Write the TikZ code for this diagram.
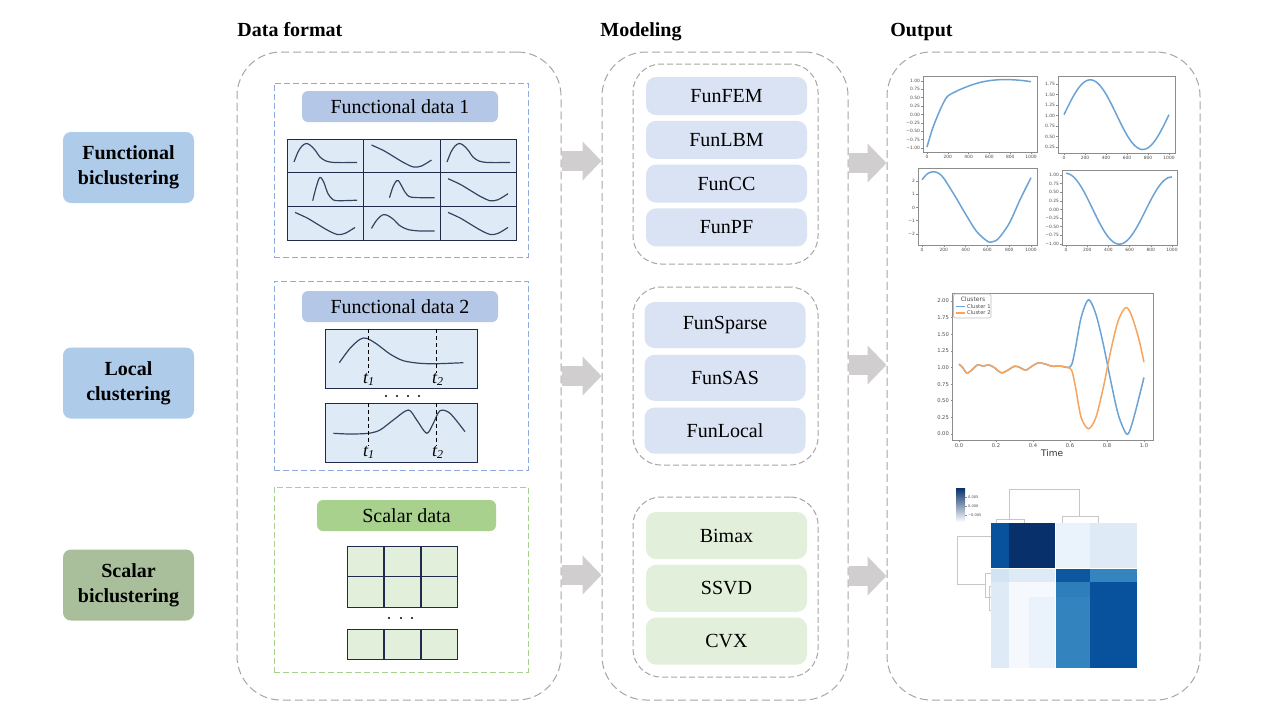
\documentclass[tikz,border=0pt]{standalone}
\usepackage{fontspec}
\setmainfont{Liberation Serif}
\newfontfamily\plotfont{DejaVu Sans}
\usetikzlibrary{arrows.meta,positioning,fit,calc}

\definecolor{boxgray}{HTML}{A6A6A6}
\definecolor{arrowgray}{HTML}{D0CECE}
\definecolor{fblue}{HTML}{AECBEA}
\definecolor{sgreen}{HTML}{A9BF9B}
\definecolor{labblue}{HTML}{B4C7E7}
\definecolor{labgreen}{HTML}{A9D18E}
\definecolor{cellblue}{HTML}{DEEBF7}
\definecolor{cellgreen}{HTML}{E2EFDA}
\definecolor{itemblue}{HTML}{DAE3F3}
\definecolor{itemgreen}{HTML}{E2EFDA}
\definecolor{dashblue}{HTML}{8FAADC}
\definecolor{dashgreen}{HTML}{A9D18E}
\definecolor{navy}{HTML}{1F2A4C}
\definecolor{curvecol}{HTML}{34445F}
\definecolor{mplblue}{HTML}{6BA3D6}
\definecolor{mplorange}{HTML}{F7A55E}
\definecolor{hmA}{HTML}{08306B}
\definecolor{hmB}{HTML}{08519C}
\definecolor{hmC}{HTML}{2E7EBC}
\definecolor{hmD}{HTML}{3383BE}
\definecolor{hmE}{HTML}{0D57A1}
\definecolor{hmF}{HTML}{D2E3F3}
\definecolor{hmG}{HTML}{DEEBF7}
\definecolor{hmH}{HTML}{EAF3FB}
\definecolor{hmI}{HTML}{F5F9FE}
\definecolor{hmJ}{HTML}{3484C0}

\tikzset{
  bigbox/.style={draw=boxgray, dash pattern=on 4pt off 2pt, rounded corners=22pt, inner sep=0pt, line width=0.5pt},
  groupbox/.style={draw=boxgray, dash pattern=on 3pt off 1.5pt, rounded corners=14pt, inner sep=0pt, line width=0.5pt},
  databox/.style={draw=#1, dash pattern=on 3pt off 1.5pt, inner sep=0pt, line width=0.5pt},
  sidelabel/.style={fill=#1, rounded corners=4pt, minimum width=65.5pt, minimum height=35.5pt, align=center, font=\fontsize{10}{12.5}\selectfont\bfseries},
  datalabel/.style={fill=#1, rounded corners=3pt, minimum height=15.5pt, inner sep=0pt},
  method/.style={fill=#1, rounded corners=5pt, minimum width=80.5pt, inner sep=0pt},
  heading/.style={font=\fontsize{10}{12}\selectfont\bfseries, anchor=base west, inner sep=0pt},
  flow/.style={arrowgray, line width=10pt, -{Triangle[length=9.5pt,width=19pt]}},
  gridcell/.style={draw=navy, line width=0.45pt, inner sep=0pt, outer sep=0pt},
  fcurve/.style={curvecol, line width=0.6pt},
  tline/.style={dash pattern=on 2pt off 1.5pt, line width=0.5pt},
  tlab/.style={font=\fontsize{9}{10}\selectfont\itshape, inner sep=0pt},
  plotframe/.style={draw=black!45, line width=0.3pt},
  ticklab/.style={font=\plotfont\fontsize{2.2}{2.5}\selectfont, text=black!70, inner sep=0.6pt},
  ticklabm/.style={font=\plotfont\fontsize{2.6}{3}\selectfont, text=black!70, inner sep=0.7pt},
  mcurve/.style={line width=0.75pt},
  dendro/.style={draw=black!22, line width=0.5pt},
  fpeak/.pic={\draw[fcurve] plot[smooth] coordinates {(7,23) (11,13) (15,7) (19,4.5) (23,6) (28,11) (33,18) (39,22) (48,23.5) (70,23.5)};},
  fpeakb/.pic={\draw[fcurve] plot[smooth] coordinates {(8,22) (13,14) (19,8.5) (24,9) (30,13) (36,19) (44,23) (55,24.5) (71,24.5)};},
  fnarrow/.pic={\draw[fcurve] plot[smooth] coordinates {(25.7,28) (29,15) (32,6) (34,5) (37,10) (41,21) (46,27) (52,28) (70,27.5)};},
  fnarrowb/.pic={\draw[fcurve] plot[smooth] coordinates {(26,25) (29.5,14) (33,8) (35,8) (38,13) (42,20) (48,24.5) (71,25)};},
  fvalley/.pic={\draw[fcurve] plot[smooth] coordinates {(8,6) (20,11.5) (30,17.5) (40,23.5) (50,28) (58,27) (68,21)};}
}

\begin{document}
\begin{tikzpicture}[x=0.5pt,y=-0.5pt,font=\fontsize{10}{12.5}\selectfont]
\fill[white] (0,0) rectangle (1280,720);
\useasboundingbox (0,0) rectangle (1280,720);

% headings
\node[heading] (hdata) at (237,36) {Data format};
\node[heading] (hmodel) at (600,36) {Modeling};
\node[heading] (hout) at (890,36) {Output};

% row labels
\node[sidelabel=fblue] (fbic) at (128.5,167.5) {Functional\\biclustering};
\node[sidelabel=fblue] (lclu) at (128.5,383) {Local\\clustering};
\node[sidelabel=sgreen] (sbic) at (128.5,585) {Scalar\\biclustering};

% columns
\node[bigbox, fit={(237,52) (561,700)}] (dfmt) {};
\node[bigbox, fit={(602,52) (848,700)}] (model) {};
\node[bigbox, fit={(887,52) (1200,700)}] (outp) {};

% data format
\node[databox=dashblue, fit={(274,83) (528,257)}] (fd1) {};
\node[databox=dashblue, fit={(274,281) (528,470)}] (fd2) {};
\node[databox=dashgreen, fit={(274,487) (528,672)}] (sd) {};
\node[datalabel=labblue, minimum width=98pt] (fd1lab) at (400,106.5) {Functional data 1};
\node[datalabel=labblue, minimum width=98pt] (fd2lab) at (400,306.5) {Functional data 2};
\node[datalabel=labgreen, minimum width=89.5pt] (sdlab) at (406.5,515.5) {Scalar data};

\foreach \c [count=\i] in {287,363.5,440}
  \foreach \r [count=\j] in {139,172.7,206.4}
    \node[gridcell, fill=cellblue, anchor=north west, minimum width=38.4pt, minimum height=16.8pt] (g\j\i) at (\c,\r) {};
\pic at (g11.north west) {fpeak};
\pic at (g12.north west) {fvalley};
\pic at (g13.north west) {fpeak};
\pic at (g21.north west) {fnarrow};
\pic at (g22.north west) {fnarrowb};
\pic at (g23.north west) {fvalley};
\pic at (g31.north west) {fvalley};
\pic at (g32.north west) {fpeakb};
\pic at (g33.north west) {fvalley};

\node[gridcell, fill=cellblue, fit={(325,329) (477,388)}] (p1) {};
\node[gridcell, fill=cellblue, fit={(325,403) (477,462)}] (p2) {};
\draw[fcurve] plot[smooth] coordinates {(339.3,362.7) (350,348.3) (360,339.3) (366.7,338.3) (376.7,344) (390,354) (403.3,360.7) (420,363.3) (436.7,363.7) (463.3,362.7)};
\draw[fcurve] plot[smooth] coordinates {(333.3,433.3) (350,434) (368.3,433.3) (380,430) (393.3,420) (408.3,410) (416.7,420) (426.7,433.3) (433.3,423.3) (440,410.7) (450,413.3) (465,431.7)};
\draw[tline] (368.3,329) -- (368.3,373);
\draw[tline] (436.7,329) -- (436.7,373);
\draw[tline] (368.3,403) -- (368.3,446);
\draw[tline] (436.7,403) -- (436.7,446);
\node[tlab] (t1a) at (369,379) {t\textsubscript{1}};
\node[tlab] (t2a) at (438,379) {t\textsubscript{2}};
\node[tlab] (t1b) at (369,452) {t\textsubscript{1}};
\node[tlab] (t2b) at (438,452) {t\textsubscript{2}};
\foreach \x in {386,397,408,419} \fill (\x,396) circle (0.55pt);

\foreach \c [count=\i] in {347,384,421}
  \foreach \r [count=\j] in {546,576.5,629}
    \node[gridcell, fill=cellgreen, anchor=north west, minimum width=18.3pt, minimum height=15.4pt] (s\j\i) at (\c,\r) {};
\foreach \x in {389,401,412} \fill (\x,618) circle (0.55pt);

% modeling
\node[groupbox, fit={(633,64) (818,264)}] (grp1) {};
\node[groupbox, fit={(633,287) (818,465)}] (grp2) {};
\node[groupbox, fit={(633,497) (818,677)}] (grp3) {};

\node[method=itemblue, minimum height=19pt] (fem) at (726.5,96) {FunFEM};
\node[method=itemblue, minimum height=19pt, below=2.5pt of fem] (lbm) {FunLBM};
\node[method=itemblue, minimum height=19pt, below=2.5pt of lbm] (cc) {FunCC};
\node[method=itemblue, minimum height=19pt, below=2.5pt of cc] (pf) {FunPF};

\node[method=itemblue, minimum height=23pt] (sparse) at (725,325) {FunSparse};
\node[method=itemblue, minimum height=23pt, below=3pt of sparse] (sas) {FunSAS};
\node[method=itemblue, minimum height=23pt, below=3pt of sas] (local) {FunLocal};

\node[method=itemgreen, minimum height=23.5pt] (bimax) at (726.5,535.5) {Bimax};
\node[method=itemgreen, minimum height=23.5pt, below=2.5pt of bimax] (ssvd) {SSVD};
\node[method=itemgreen, minimum height=23.5pt, below=2.5pt of ssvd] (cvx) {CVX};

% flow arrows
\coordinate (r1) at (0,161);
\coordinate (r2) at (0,376);
\coordinate (r3) at (0,575);
\coordinate (q1) at (0,163);
\coordinate (q2) at (0,365);
\coordinate (q3) at (0,576);
\draw[flow] (dfmt.east |- r1) -- (model.west |- r1);
\draw[flow] (dfmt.east |- r2) -- (model.west |- r2);
\draw[flow] (dfmt.east |- r3) -- (model.west |- r3);
\draw[flow] (model.east |- q1) -- (outp.west |- q1);
\draw[flow] (model.east |- q2) -- (outp.west |- q2);
\draw[flow] (model.east |- q3) -- (outp.west |- q3);

% output: four curves
\begin{scope}[shift={(927,114.5)}, x=0.052pt, y=16.75pt]
  \draw[plotframe] (-38,-1.12) rectangle (1058,1.15);
  \foreach \t in {0,200,...,1000}
    \draw[plotframe] (\t,-1.12) -- ++(0pt,-0.8pt) node[ticklab, below] {\t};
  \foreach \v/\s in {-1/−1.00,-0.75/−0.75,-0.5/−0.50,-0.25/−0.25,0/0.00,0.25/0.25,0.5/0.50,0.75/0.75,1/1.00}
    \draw[plotframe] (-38,\v) -- ++(-0.8pt,0pt) node[ticklab, left] {\s};
  \draw[mcurve, mplblue] plot[smooth] coordinates {(0,-0.97) (50,-0.45) (100,-0.05) (150,0.3) (200,0.55) (300,0.72) (400,0.85) (500,0.95) (600,1.01) (700,1.04) (800,1.04) (900,1.02) (1000,0.98)};
\end{scope}

\begin{scope}[shift={(1064,157.5)}, x=0.0525pt, y=21pt]
  \draw[plotframe] (-57,0.107) rectangle (1057,1.94);
  \foreach \t in {0,200,...,1000}
    \draw[plotframe] (\t,0.107) -- ++(0pt,-0.8pt) node[ticklab, below] {\t};
  \foreach \v in {0.25,0.50,0.75,1.00,1.25,1.50,1.75}
    \draw[plotframe] (-57,\v) -- ++(-0.8pt,0pt) node[ticklab, left] {\v};
  \draw[mcurve, mplblue] plot[domain=0:1000, samples=60, smooth] (\x,{1.02+0.83*sin(0.36*\x)});
\end{scope}

\begin{scope}[shift={(922,207.5)}, x=0.0545pt, y=6.625pt]
  \draw[plotframe] (-37,-2.83) rectangle (1055,2.98);
  \foreach \t in {0,200,...,1000}
    \draw[plotframe] (\t,-2.83) -- ++(0pt,-0.8pt) node[ticklab, below] {\t};
  \foreach \v/\s in {-2/−2,-1/−1,0/0,1/1,2/2}
    \draw[plotframe] (-37,\v) -- ++(-0.8pt,0pt) node[ticklab, left] {\s};
  \draw[mcurve, mplblue] plot[smooth] coordinates {(0,2.1) (50,2.55) (100,2.7) (150,2.6) (200,2.2) (300,0.9) (400,-0.5) (500,-1.8) (600,-2.55) (640,-2.6) (700,-2.35) (800,-1.2) (900,0.6) (1000,2.25)};
\end{scope}

\begin{scope}[shift={(1066,209.5)}, x=0.053pt, y=17.25pt]
  \draw[plotframe] (-38,-1.03) rectangle (1047,1.145);
  \foreach \t in {0,200,...,1000}
    \draw[plotframe] (\t,-1.03) -- ++(0pt,-0.8pt) node[ticklab, below] {\t};
  \foreach \v/\s in {-1/−1.00,-0.75/−0.75,-0.5/−0.50,-0.25/−0.25,0/0.00,0.25/0.25,0.5/0.50,0.75/0.75,1/1.00}
    \draw[plotframe] (-38,\v) -- ++(-0.8pt,0pt) node[ticklab, left] {\s};
  \draw[mcurve, mplblue] plot[domain=0:1000, samples=60, smooth] (\x,{0.05+cos(0.36*\x)-0.0001*\x});
\end{scope}

% output: local clusters
\begin{scope}[shift={(959,434)}, x=92.5pt, y=33.25pt]
  \draw[plotframe] (-0.035,-0.09) rectangle (1.05,2.12);
  \foreach \t in {0.0,0.2,0.4,0.6,0.8,1.0}
    \draw[plotframe] (\t,-0.09) -- ++(0pt,-1pt) node[ticklabm, below] {\t};
  \foreach \v in {0.00,0.25,0.50,0.75,1.00,1.25,1.50,1.75,2.00}
    \draw[plotframe] (-0.035,\v) -- ++(-1pt,0pt) node[ticklabm, left] {\v};
  \draw[mcurve, mplblue] plot[smooth] coordinates {(0,1.05) (0.02,1.0) (0.04,0.92) (0.06,0.94) (0.1,1.04) (0.13,1.02) (0.16,1.04) (0.19,1.0) (0.23,0.92) (0.27,0.97) (0.3,1.02) (0.33,1.0) (0.36,0.96) (0.4,1.03) (0.43,1.07) (0.47,1.05) (0.5,1.02) (0.55,1.02) (0.59,1.0) (0.61,1.05) (0.63,1.3) (0.66,1.75) (0.7,2.02) (0.74,1.8) (0.78,1.35) (0.82,0.8) (0.86,0.3) (0.9,0.02) (0.92,0.03) (0.95,0.3) (1.0,0.85)};
  \draw[mcurve, mplorange] plot[smooth] coordinates {(0,1.05) (0.02,1.0) (0.04,0.92) (0.06,0.94) (0.1,1.04) (0.13,1.02) (0.16,1.04) (0.19,1.0) (0.23,0.92) (0.27,0.97) (0.3,1.02) (0.33,1.0) (0.36,0.96) (0.4,1.03) (0.43,1.07) (0.47,1.05) (0.5,1.02) (0.55,1.02) (0.59,1.0) (0.61,0.95) (0.63,0.7) (0.66,0.25) (0.7,0.08) (0.74,0.25) (0.78,0.7) (0.82,1.25) (0.86,1.7) (0.9,1.9) (0.93,1.8) (0.97,1.45) (1.0,1.08)};
  \node[font=\plotfont\fontsize{4.5}{5}\selectfont, text=black!80] (timelab) at (0.503,-0.286) {Time};
\end{scope}
\draw[draw=black!25, fill=white, rounded corners=0.8pt, line width=0.3pt] (953.5,294) rectangle (991,318);
\node[ticklabm, font=\plotfont\fontsize{3}{3.5}\selectfont] (legtitle) at (973,299) {Clusters};
\draw[mcurve, mplblue] (956,306.5) -- (965,306.5) node[ticklabm, right] (leg1) {Cluster 1};
\draw[mcurve, mplorange] (956,313) -- (965,313) node[ticklabm, right] (leg2) {Cluster 2};

% output: heatmap
\foreach \xa/\xb/\ya/\yb/\c in {
  991/1009/523/568/hmB, 1009/1029/523/568/hmA, 1029/1055/523/568/hmA, 1055/1090/523/568/hmH, 1090/1137/523/568/hmG,
  991/1009/568/582/hmF, 1009/1029/568/582/hmG, 1029/1055/568/582/hmG, 1055/1090/568/582/hmE, 1090/1137/568/582/hmJ,
  991/1009/582/597/hmG, 1009/1029/582/597/hmI, 1029/1055/582/597/hmI, 1055/1090/582/597/hmC, 1090/1137/582/597/hmB,
  991/1009/597/668/hmG, 1009/1029/597/668/hmI, 1029/1055/597/668/hmH, 1055/1090/597/668/hmD, 1090/1137/597/668/hmB}
  \fill[\c] (\xa,\ya) rectangle (\xb,\yb);
\draw[white, line width=0.5pt] (1055,523) -- (1055,668) (991,568) -- (1137,568);
\draw[dendro] (1009,519) -- (1009,489) -- (1079,489) -- (1079,516);
\draw[dendro] (996,523) -- (996,519) -- (1024,519) -- (1024,523);
\draw[dendro] (1062,523) -- (1062,516) -- (1098,516) -- (1098,523);
\draw[dendro] (991,536) -- (957,536) -- (957,584) -- (985,584);
\draw[dendro] (991,573) -- (985,573) -- (985,597) -- (991,597);
\draw[dendro] (991,586) -- (989,586) -- (989,610) -- (991,610);
\shade[top color=hmA, bottom color=white] (956,488) rectangle (965,522);
\foreach \v/\s in {497/0.005,506/0.000,515/−0.005}
  \draw[plotframe] (965,\v) -- ++(0.8pt,0pt) node[ticklab, right, font=\plotfont\fontsize{1.8}{2}\selectfont] {\s};
\end{tikzpicture}
\end{document}
